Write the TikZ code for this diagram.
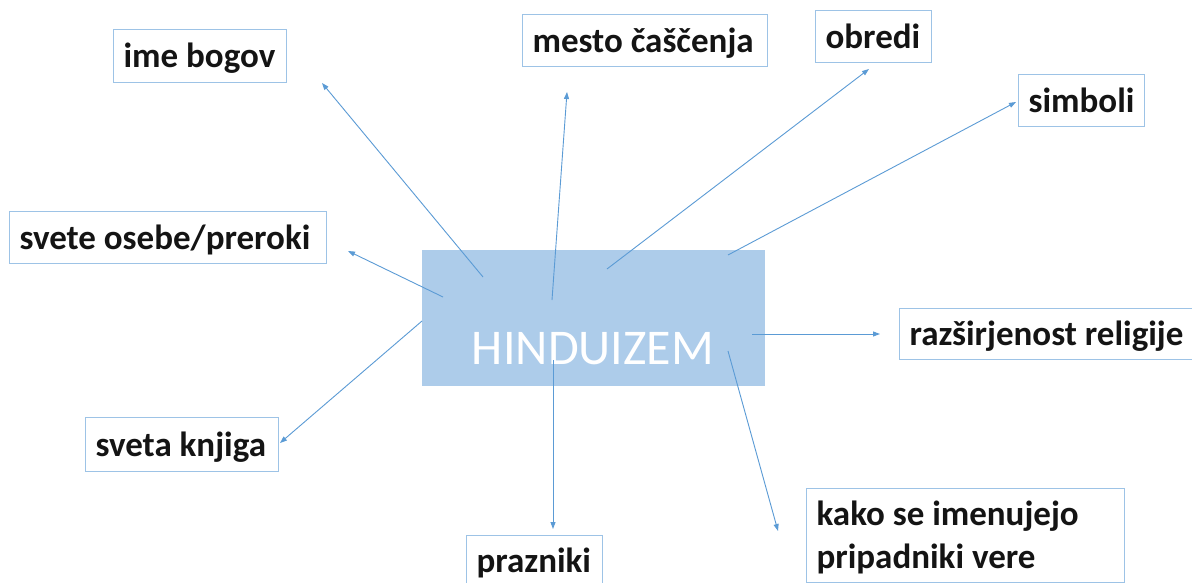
\documentclass[tikz,border=0pt]{standalone}
\usepackage{fontspec}
\setmainfont{Carlito}
\usetikzlibrary{arrows.meta}
\definecolor{boxline}{HTML}{9DC3E6}
\definecolor{hubfill}{HTML}{ADCCEA}
\definecolor{arrowcol}{HTML}{5B9BD5}
\tikzset{
  lbl/.style={draw=boxline, line width=1.2pt, anchor=north west, inner xsep=10pt, inner ysep=0pt,
    align=flush left, text height=29pt, text depth=5.6pt,
    font=\fontsize{35}{43}\selectfont\bfseries, text=black!92},
  conn/.style={draw=arrowcol, line width=0.9pt, -{Triangle[length=7pt,width=5pt]}},
}
\begin{document}
\begin{tikzpicture}[x=1pt,y=-1pt]
\clip (0,0) rectangle (1192,583);
\fill[white] (0,0) rectangle (1192,583);
% hub
\node[fill=hubfill, minimum width=343pt, minimum height=136pt, anchor=north west, inner sep=0pt] (hub) at (422,250) {};
\node[anchor=base, text=white, font=\fontsize{50}{60}\selectfont, inner sep=0pt] (hubtext) at (593,364) {HINDUIZEM};
% labels
\node[lbl, text width=153pt, minimum height=53pt] (ime) at (113,29) {ime bogov};
\node[lbl, text width=225pt, minimum height=52pt] (mesto) at (522,14) {mesto čaščenja};
\node[lbl, text width=96pt, minimum height=52pt] (obredi) at (815,10) {obredi};
\node[lbl, text width=106pt, minimum height=52pt] (simboli) at (1018,74) {simboli};
\node[lbl, text width=297pt, minimum height=52pt] (svete) at (9,211) {svete osebe/preroki};
\node[lbl, text width=290pt, minimum height=51pt] (razs) at (899,308) {razširjenost religije};
\node[lbl, text width=173pt, minimum height=54pt] (sveta) at (85,417) {sveta knjiga};
\node[lbl, text width=116pt, minimum height=50pt] (praz) at (466,535) {prazniki};
\node[lbl, text width=298pt, minimum height=94pt, text depth=48.6pt] (kako) at (806,488) {kako se imenujejo\\pripadniki vere};
% connector ends
\coordinate (s1) at (483,277); \coordinate (e1) at (322,83);
\coordinate (s2) at (552,300); \coordinate (e2) at (567,92);
\coordinate (s3) at (607,269); \coordinate (e3) at (869,69);
\coordinate (s4) at (728,255); \coordinate (e4) at (1016,102);
\coordinate (s5) at (443,297); \coordinate (e5) at (348,251);
\coordinate (s6) at (752,334); \coordinate (e6) at (880,334);
\coordinate (s7) at (422,321); \coordinate (e7) at (280,443);
\coordinate (s8) at (553,360); \coordinate (e8) at (553,529);
\coordinate (s9) at (728,351); \coordinate (e9) at (778,531);
\draw[conn] (s1) -- (e1);
\draw[conn] (s2) -- (e2);
\draw[conn] (s3) -- (e3);
\draw[conn] (s4) -- (e4);
\draw[conn] (s5) -- (e5);
\draw[conn] (s6) -- (e6);
\draw[conn] (s7) -- (e7);
\draw[conn] (s8) -- (e8);
\draw[conn] (s9) -- (e9);
\end{tikzpicture}
\end{document}
